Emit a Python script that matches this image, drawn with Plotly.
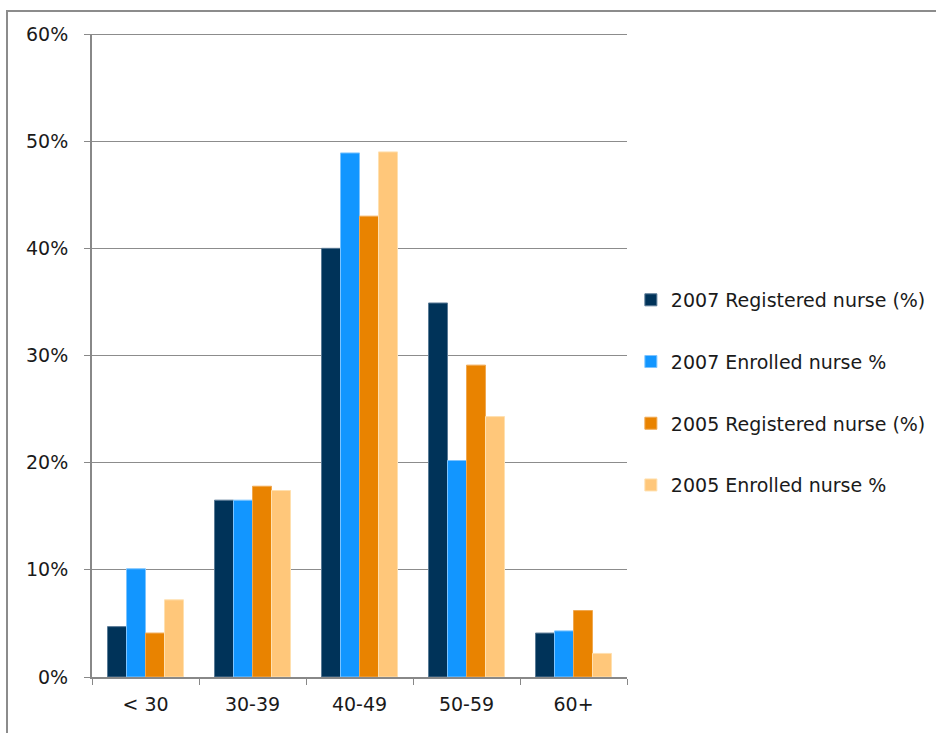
import plotly.graph_objects as go

# Age bands and share of nurses in each band (%)
age_groups = ["< 30", "30-39", "40-49", "50-59", "60+"]
rn_2007 = [4.7, 16.5, 40.0, 34.9, 4.1]
en_2007 = [10.1, 16.5, 48.9, 20.2, 4.3]
rn_2005 = [4.1, 17.8, 43.0, 29.1, 6.2]
en_2005 = [7.2, 17.4, 49.0, 24.3, 2.2]

series_names = [
    "2007 Registered nurse (%)",
    "2007 Enrolled nurse %",
    "2005 Registered nurse (%)",
    "2005 Enrolled nurse %",
]
series_values = [rn_2007, en_2007, rn_2005, en_2005]
fill_colors = ["#003359", "#1296FF", "#E98300", "#FFC77A"]
edge_colors = ["#5A7A96", "#7CC4FF", "#F0A850", "#FFE0B0"]

FONT = "DejaVu Sans, Verdana, sans-serif"
FSIZE = 19
Y_MAX = 0.6

fig = go.Figure()
for i, (name, vals, fc, ec) in enumerate(zip(series_names, series_values, fill_colors, edge_colors)):
    fig.add_trace(go.Bar(
        x=age_groups,
        y=[v / 100 for v in vals],
        name=name,
        legendgroup=f"g{i}",
        marker=dict(color=fc, line=dict(color=ec, width=1)),
    ))

fig.update_layout(
    width=936,
    height=733,
    margin=dict(l=92, r=309, t=34, b=56, autoexpand=False),
    paper_bgcolor="white",
    plot_bgcolor="white",
    barmode="group",
    bargap=0.29,
    bargroupgap=0,
    font=dict(family=FONT, size=FSIZE, color="#1a1a1a"),
    showlegend=True,
    legend=dict(
        xref="container",
        x=0.674,
        y=0.4425,
        xanchor="left",
        yanchor="middle",
        tracegroupgap=34,
        font=dict(family=FONT, size=FSIZE, color="#1a1a1a"),
        bgcolor="rgba(0,0,0,0)",
        itemclick=False,
    ),
    xaxis=dict(
        showline=True,
        linecolor="#888888",
        linewidth=2,
        ticks="outside",
        tickson="boundaries",
        ticklen=6,
        tickcolor="#888888",
        showgrid=False,
        ticklabelstandoff=9,
        tickfont=dict(size=FSIZE),
    ),
    yaxis=dict(
        range=[0, Y_MAX],
        dtick=0.1,
        tickformat=".0%",
        showline=True,
        linecolor="#888888",
        linewidth=2,
        ticks="outside",
        ticklen=6,
        tickcolor="#888888",
        showgrid=True,
        gridcolor="#8c8c8c",
        gridwidth=1,
        zeroline=False,
        ticklabelstandoff=12,
        tickfont=dict(size=FSIZE),
    ),
    shapes=[
        # gridline at the top of the value range
        dict(
            type="line",
            xref="paper", yref="y",
            x0=-6 / 535, x1=1,
            y0=Y_MAX, y1=Y_MAX,
            line=dict(color="#8c8c8c", width=2),
        ),
        # outer chart frame, continuing past the right and bottom edges
        dict(
            type="rect",
            xref="paper", yref="paper",
            x0=(7 - 92) / 535, x1=2.0,
            y0=-0.5, y1=(677 - 11) / 643,
            line=dict(color="#8c8c8c", width=2),
            fillcolor="rgba(0,0,0,0)",
            layer="below",
        ),
    ],
)

fig.write_html("out.html")
